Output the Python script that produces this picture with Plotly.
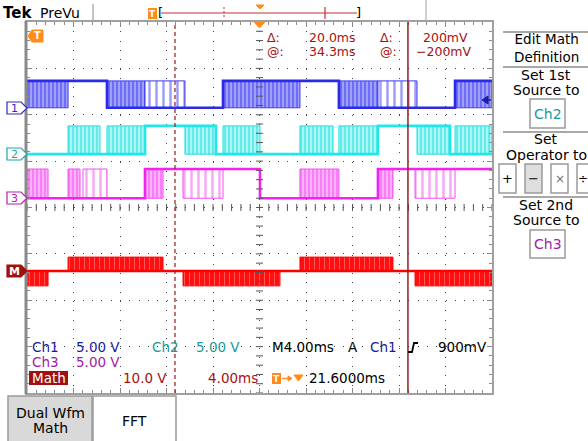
import plotly.graph_objects as go
import numpy as np

W, H = 588, 441
GX0, GX1, GY0, GY1 = 27, 492, 22, 393   # graticule box in pixels

# ---------------- data ----------------
T_RANGE = [0, 40]      # ms (10 div x 4 ms/div)
V_RANGE = [-4, 4]      # screen divisions

# states: single letter = steady level; 3 letters = (P dense / S sparse PWM, base level, pulse level)
CH1_EDGES = [0, 3.53, 6.88, 10.15, 13.59, 16.86, 23.48, 26.83, 30.19, 33.55, 36.82, 40]
CH1_STATES = ["PHL", "H", "PLH", "SLH", "L", "PHL", "H", "PLH", "SLH", "L", "PHL"]
CH1_LEVELS = {"H": 2.73, "L": 2.15}

CH2_EDGES = [0, 3.53, 6.28, 6.88, 10.15, 13.59, 16.26, 16.86, 20.04, 23.48, 26.32, 26.83,
             30.19, 33.55, 36.39, 36.82, 40]
CH2_STATES = ["L", "PLH", "L", "PLH", "H", "PHL", "L", "PLH", "L", "PLH", "L", "PLH",
              "H", "PHL", "L", "PLH"]
CH2_LEVELS = {"H": 1.76, "L": 1.15}

CH3_EDGES = [0, 1.81, 3.53, 4.56, 4.82, 6.88, 10.15, 11.70, 13.42, 16.86, 20.04, 23.48,
             26.83, 30.19, 31.48, 33.38, 36.82, 40]
CH3_STATES = ["PLH", "L", "PLH", "L", "SLH", "L", "PHL", "H", "SHL", "H", "L", "PLH",
              "L", "PHL", "H", "SHL", "H"]
CH3_LEVELS = {"H": 0.83, "L": 0.20}

MATH_EDGES = [0, 1.81, 3.53, 11.70, 13.42, 21.76, 23.48, 31.48, 33.38, 40]
MATH_STATES = ["PBD", "B", "PBU", "B", "PBD", "B", "PBU", "B", "PBD"]
MATH_LEVELS = {"B": -1.37, "U": -1.07, "D": -1.69}

CURSOR_T = [12.73, 32.77]   # ms, vertical time cursors

CHANNELS = [
    ("Ch1", CH1_EDGES, CH1_STATES, CH1_LEVELS, "#2a2ae8", "#3c3cf0", "#a0a0ff"),
    ("Ch2", CH2_EDGES, CH2_STATES, CH2_LEVELS, "#1ee8e8", "#22dede", "#a8f6f6"),
    ("Ch3", CH3_EDGES, CH3_STATES, CH3_LEVELS, "#f222f2", "#f050f0", "#ffb0ff"),
    ("Math", MATH_EDGES, MATH_STATES, MATH_LEVELS, "#ff0000", "#ffa0a0", "#ff1010"),
]


def build(edges, states, levels):
    lx, ly, dx, dy, sx, sy = [], [], [], [], [], []
    for i, s in enumerate(states):
        t0, t1 = edges[i], edges[i + 1]
        b = levels[s[0]] if len(s) == 1 else levels[s[1]]
        lx += [t0, t1]
        ly += [b, b]
        if len(s) == 3:
            p = levels[s[2]]
            tx, ty = (dx, dy) if s[0] == "P" else (sx, sy)
            tx += [t0, t1, t1, t0, t0, None]
            ty += [b, b, p, p, b, None]
    return lx, ly, dx, dy, sx, sy


fig = go.Figure()

for name, edges, states, levels, lc, fg, bg in CHANNELS:
    lx, ly, dx, dy, sx, sy = build(edges, states, levels)
    is_math = name == "Math"
    fig.add_trace(go.Scatter(
        x=dx, y=dy, mode="lines", fill="toself", showlegend=False, hoverinfo="skip",
        line=dict(color=lc if is_math else fg, width=1),
        fillcolor=bg,
        fillpattern=dict(shape="|", fgcolor=fg, bgcolor=bg, size=5 if is_math else 4,
                         solidity=0.2 if is_math else 0.5)))
    if sx:
        fig.add_trace(go.Scatter(
            x=sx, y=sy, mode="lines", fill="toself", showlegend=False, hoverinfo="skip",
            line=dict(color=fg, width=1), fillcolor="white",
            fillpattern=dict(shape="|", fgcolor=fg, bgcolor="#ffffff", size=7, solidity=0.35)))
    fig.add_trace(go.Scatter(x=lx, y=ly, mode="lines", showlegend=False, hoverinfo="skip",
                             line=dict(color=lc, width=2.6)))

# centre-line tick marks (graticule)
tick_t = np.arange(T_RANGE[0], T_RANGE[1] + 0.01, 0.8)
tick_v = np.arange(V_RANGE[0], V_RANGE[1] + 0.01, 0.2)
fig.add_trace(go.Scatter(x=tick_t, y=[0] * len(tick_t), mode="markers", showlegend=False,
                         hoverinfo="skip",
                         marker=dict(symbol="line-ns", size=5, line=dict(color="#555", width=1))))
fig.add_trace(go.Scatter(x=[20] * len(tick_v), y=tick_v, mode="markers", showlegend=False,
                         hoverinfo="skip",
                         marker=dict(symbol="line-ew", size=5, line=dict(color="#555", width=1))))


def PX(x):
    return x / W


def PY(y):
    return 1 - y / H


shapes = []
ann = []


def rect(x0, y0, x1, y1, fill, line="rgba(0,0,0,0)", w=1):
    shapes.append(dict(type="rect", xref="paper", yref="paper", x0=PX(x0), x1=PX(x1),
                       y0=PY(y1), y1=PY(y0), fillcolor=fill, line=dict(color=line, width=w),
                       layer="above"))


def seg(x0, y0, x1, y1, color, w=1, dash="solid"):
    shapes.append(dict(type="line", xref="paper", yref="paper", x0=PX(x0), x1=PX(x1),
                       y0=PY(y0), y1=PY(y1), line=dict(color=color, width=w, dash=dash),
                       layer="above"))


def poly(pts, fill, line=None, w=1):
    p = "M " + " L ".join(f"{PX(x):.5f},{PY(y):.5f}" for x, y in pts) + " Z"
    shapes.append(dict(type="path", xref="paper", yref="paper", path=p, fillcolor=fill,
                       line=dict(color=line or fill, width=w), layer="above"))


def txt(x, y, s, color="black", size=13.5, anchor="left", bold=False, family="DejaVu Sans"):
    if bold:
        s = f"<b>{s}</b>"
    ann.append(dict(x=PX(x), y=PY(y), xref="paper", yref="paper", text=s, showarrow=False,
                    xanchor=anchor, yanchor="middle", borderpad=0,
                    font=dict(family=family, size=size, color=color)))


# cursors (data coords)
shapes.append(dict(type="line", xref="x", yref="y", x0=CURSOR_T[0], x1=CURSOR_T[0],
                   y0=V_RANGE[0], y1=V_RANGE[1], line=dict(color="#a01818", width=1.2, dash="4px,3px")))
shapes.append(dict(type="line", xref="x", yref="y", x0=CURSOR_T[1], x1=CURSOR_T[1],
                   y0=V_RANGE[0], y1=V_RANGE[1], line=dict(color="#901010", width=1.4)))

# thick left border
seg(26, GY0 - 1, 26, GY1 + 1, "#8a8a8a", 3)

# ---------- top bar ----------
txt(2, 13, "Tek", "black", 15, bold=True)
txt(39, 13, "PreVu", "black", 14)
seg(93, 4, 93, 20, "#b0b0b0", 1.5)
seg(426, 0, 426, 20, "#c0c0c0", 1.5)
rect(148, 8, 157, 19, "#ff8c1a")
txt(152.5, 13.5, "T", "white", 9, anchor="center", bold=True)
seg(161, 13, 357, 13, "#c03030", 1.2)
txt(157, 13, "[", "black", 13)
txt(355, 13, "]", "black", 13)
seg(224, 7, 224, 19, "#c03030", 1, "2px,2px")
seg(325, 7, 325, 19, "#c03030", 1.2)
poly([(256, 5), (264, 5), (260, 9)], "#ff8c1a")

# trigger position marker at top of screen
poly([(254, 22), (265, 22), (259.5, 28)], "#ff8c1a")
# trigger 'T' in screen
poly([(28, 36), (32, 30), (43, 30), (43, 42), (32, 42)], "#ff8c1a")
txt(37.5, 36, "T", "white", 10, anchor="center", bold=True)
# trigger level arrow on right
poly([(482, 100), (488, 96), (488, 104)], "#1c1ca8")
seg(486, 100, 491, 100, "#1c1ca8", 1.5)

# channel ground markers
def chan_marker(yc, label, color, filled=False):
    pts = [(7, yc - 6), (21, yc - 6), (27, yc), (21, yc + 6), (7, yc + 6)]
    poly(pts, color if filled else "white", color, 1.2)
    txt(14, yc, label, "white" if filled else color, 11, anchor="center", bold=filled)

chan_marker(108, "1", "#2a2ac0")
chan_marker(154, "2", "#1aa8a8")
chan_marker(198, "3", "#b020b0")
chan_marker(271, "M", "#a01010", filled=True)

# ---------- cursor readouts ----------
RED = "#a81010"
RS = 12.5
txt(266, 37, "Δ:", RED, RS)
txt(357, 37, "20.0ms", RED, RS, anchor="right")
txt(379, 37, "Δ:", RED, RS)
txt(469, 37, "200mV", RED, RS, anchor="right")
txt(266, 51, "@:", RED, RS)
txt(357, 51, "34.3ms", RED, RS, anchor="right")
txt(379, 51, "@:", RED, RS)
txt(473, 51, "−200mV", RED, RS, anchor="right")

# ---------- bottom readouts ----------
BLUE = "#1a1aa0"
TEAL = "#1a9a9a"
PURP = "#a020a8"
txt(31, 347, "Ch1", BLUE)
txt(75, 347, "5.00 V", BLUE)
txt(151, 347, "Ch2", TEAL)
txt(195, 347, "5.00 V", TEAL)
txt(271, 347, "M4.00ms", "black")
txt(347, 347, "A", "black")
txt(369, 347, "Ch1", BLUE)
shapes.append(dict(type="path", xref="paper", yref="paper",
                   path=f"M {PX(408)},{PY(352)} L {PX(412)},{PY(352)} L {PX(414)},{PY(343)} L {PX(418)},{PY(343)}",
                   line=dict(color="black", width=1.8), layer="above"))
txt(488, 347, "900mV", "black", anchor="right")
txt(31, 362, "Ch3", PURP)
txt(75, 362, "5.00 V", PURP)
rect(29, 371, 68, 385, "#a01010")
txt(48.5, 378, "Math", "white", 13.5, anchor="center")
txt(122, 378, "10.0 V", RED)
txt(207, 378, "4.00ms", RED)
rect(272, 373, 281, 384, "#ff8c1a")
txt(276.5, 378.5, "T", "white", 9, anchor="center", bold=True)
seg(282, 378.5, 290, 378.5, "#ff8c1a", 1.3)
poly([(288, 376), (292, 378.5), (288, 381)], "#ff8c1a")
poly([(294, 375), (303, 375), (298.5, 381)], "#ff8c1a")
txt(308, 378, "21.6000ms", "black")

# ---------- right menu ----------
GRAY = "#a8a8a8"
for yy in (32, 67, 132, 197):
    seg(503, yy, 588, yy, GRAY, 2)
MC = 546
ann.append(dict(x=PX(MC), y=PY(48.5), xref="paper", yref="paper",
                text="Edit Math<br>Definition", showarrow=False, xanchor="center",
                yanchor="middle", borderpad=0, align="center",
                font=dict(family="DejaVu Sans", size=13.5, color="black")))
txt(MC, 75, "Set 1st", "black", 14, anchor="center")
txt(MC, 90, "Source to", "black", 14, anchor="center")
rect(530, 99, 565, 128, "white", "#9a9a9a", 1.5)
txt(547.5, 113.5, "Ch2", TEAL, 14, anchor="center")
txt(MC, 139, "Set", "black", 14, anchor="center")
txt(505, 155, "Operator to", "black", 14)
rect(499, 164, 516, 193, "white", "#9a9a9a", 1.5)
txt(507.5, 178.5, "+", "black", 13, anchor="center")
rect(525, 164, 542, 193, "#dedede", "#9a9a9a", 1.5)
txt(533.5, 178.5, "−", "black", 13, anchor="center")
rect(551, 164, 568, 193, "white", "#9a9a9a", 1.5)
txt(559.5, 178.5, "×", "#707070", 12, anchor="center")
rect(577, 164, 594, 193, "white", "#9a9a9a", 1.5)
txt(582.5, 178.5, "÷", "black", 12, anchor="center")
txt(MC, 205, "Set 2nd", "black", 14, anchor="center")
txt(MC, 220, "Source to", "black", 14, anchor="center")
rect(530, 230, 565, 258, "white", "#9a9a9a", 1.5)
txt(547.5, 244, "Ch3", PURP, 14, anchor="center")

# ---------- bottom buttons ----------
rect(8, 396, 92, 443, "#d9d9d9", "#9a9a9a", 1.5)
txt(50, 413, "Dual Wfm", "black", 14, anchor="center")
txt(50, 428, "Math", "black", 14, anchor="center")
rect(93, 396, 176, 443, "white", "#9a9a9a", 1.5)
txt(134.5, 421, "FFT", "black", 14, anchor="center")

axis_common = dict(showgrid=True, gridcolor="#444", gridwidth=1, griddash="1px,8.3px",
                   zeroline=False, showticklabels=False, ticks="inside", ticklen=5,
                   tickcolor="#8a8a8a", showline=True, linecolor="#a0a0a0", linewidth=2,
                   mirror="allticks", fixedrange=True)

fig.update_layout(
    width=W, height=H, margin=dict(l=0, r=0, t=0, b=0, pad=0),
    paper_bgcolor="white", plot_bgcolor="white", showlegend=False,
    xaxis=dict(range=T_RANGE, domain=[GX0 / W, GX1 / W], dtick=4, tick0=0,
               minor=dict(dtick=0.8, ticks="inside", ticklen=3, tickcolor="#8a8a8a"),
               **axis_common),
    yaxis=dict(range=V_RANGE, domain=[1 - GY1 / H, 1 - GY0 / H], dtick=1, tick0=0,
               minor=dict(dtick=0.2, ticks="inside", ticklen=3, tickcolor="#8a8a8a"),
               **axis_common),
    shapes=shapes, annotations=ann,
)

fig.write_html("out.html")
